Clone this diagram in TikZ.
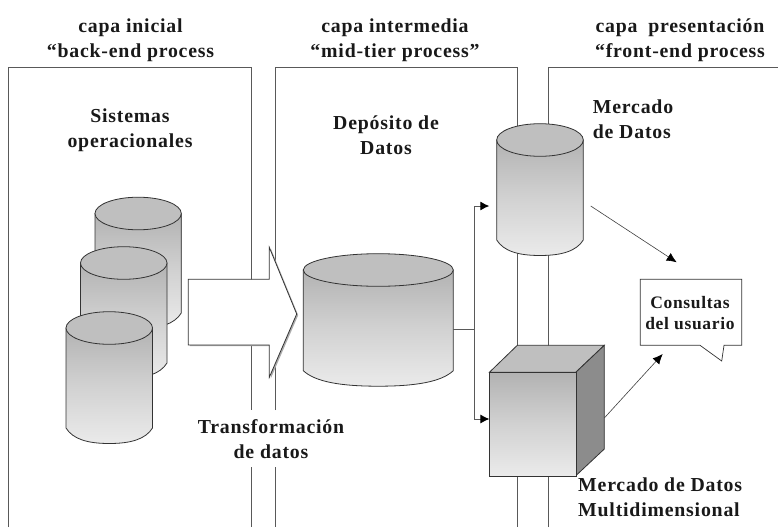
\documentclass[tikz,border=0pt]{standalone}
\usepackage{fontspec}
\setmainfont[LetterSpace=4]{Liberation Serif}
\usetikzlibrary{arrows.meta}
\definecolor{edgeg}{gray}{0.2}
\definecolor{paneg}{gray}{0.35}
\definecolor{topg}{gray}{0.75}
\definecolor{sidetop}{gray}{0.70}
\definecolor{sidebot}{gray}{0.92}
\definecolor{faceg}{gray}{0.55}
\tikzset{
  paneline/.style={draw=paneg,line width=0.9pt},
  shapeline/.style={draw=edgeg,line width=0.8pt},
  elbow/.style={draw=paneg,line width=0.9pt,-{Latex[length=9pt,width=9pt,black]}},
  tipped/.style={-{Latex[length=10pt,width=9pt,black]},draw=black!75,line width=0.6pt},
  lab/.style={font=\fontsize{19.8}{24.5}\selectfont\bfseries,align=center,inner sep=0pt,text=black!90},
  labl/.style={lab,align=left},
  smalllab/.style={lab,font=\fontsize{17.5}{21}\selectfont\bfseries},
  gradfill/.style={top color=sidetop,bottom color=sidebot,middle color=sidetop!45!sidebot}
}
% #1 name, #2 left x, #3 right x, #4 ellipse centre y, #5 side end y
\newcommand{\drum}[5]{%
  \path[shapeline,gradfill] (#2,#4) -- (#2,#5)
    .. controls (#2+0.08*#3-0.08*#2,#5+0.0+15.5*0.72) and ({#2+0.25*(#3-#2)},#5+15.5) .. ({(#2+#3)/2},#5+15.5)
    .. controls ({#3-0.25*(#3-#2)},#5+15.5) and (#3-0.08*#3+0.08*#2,#5+15.5*0.72) .. (#3,#5) -- (#3,#4) -- cycle;
  \path[shapeline,fill=topg] ({(#2+#3)/2},#4) ellipse [x radius={(#3-#2)/2},y radius=16.3];
  \coordinate (#1-e) at (#3,{(#4+#5)/2});
}
\begin{document}
\begin{tikzpicture}[x=1pt,y=-1pt]
\useasboundingbox (0,0) rectangle (778,527);
\fill[white] (0,0) rectangle (778,527);
% panels
\coordinate (pa) at (8.3,527);   \coordinate (pb) at (8.3,67.5);
\coordinate (pc) at (251,67.5);  \coordinate (pd) at (251,410);
\coordinate (pe) at (251,467);   \coordinate (pf) at (251,527);
\coordinate (qa) at (275,410);   \coordinate (qb) at (275,67.5);
\coordinate (qc) at (517.5,67.5);\coordinate (qd) at (517.5,527);
\coordinate (qe) at (275,467);   \coordinate (qf) at (275,527);
\coordinate (ra) at (548,527);   \coordinate (rb) at (548,67.5);
\coordinate (rc) at (778,67.5);
\draw[paneline] (pa) -- (pb) -- (pc) -- (pd);
\draw[paneline] (pe) -- (pf);
\draw[paneline] (qa) -- (qb) -- (qc) -- (qd);
\draw[paneline] (qe) -- (qf);
\draw[paneline] (ra) -- (rb) -- (rc);
% source cylinders
\drum{s1}{95}{181.3}{213.5}{313}
\drum{s2}{80.5}{167}{263}{363}
\drum{s3}{66}{152.5}{328}{428}
% big block arrow with its shadow
\fill[gray!65,xshift=1.5pt,yshift=-1.2pt] (188.3,279.3) -- (269.3,279.3) -- (269.3,247.3) -- (296.7,314) -- (269.3,377.3) -- (269.3,345) -- (188.3,345) -- cycle;
\draw[shapeline,fill=white] (188.3,279.3) -- (269.3,279.3) -- (269.3,247.3) -- (296.7,314) -- (269.3,377.3) -- (269.3,345) -- (188.3,345) -- cycle;
% warehouse, mart
\drum{dw}{303.3}{453.3}{270}{370.7}
\drum{dm}{496.7}{583.3}{140}{240}
% cube
\path[shapeline,fill=topg] (489.4,372.3) -- (517.3,345.3) -- (604.3,345.3) -- (575.8,372.3) -- cycle;
\path[shapeline,fill=faceg] (575.8,372.3) -- (604.3,345.3) -- (604.3,449) -- (575.8,475.7) -- cycle;
\node[shapeline,gradfill,minimum width=86.4pt,minimum height=103.4pt,inner sep=0pt,anchor=north west] (cube) at (489.4,372.3) {};
% callout
\path[draw=edgeg,line width=0.7pt,fill=white] (640.3,279.3) -- (741.7,279.3) -- (741.7,345.3) -- (724,345.3) -- (721.7,361) -- (700,345.3) -- (640.3,345.3) -- cycle;
% labels
\node[lab,anchor=base] (t1) at (130.5,57) {capa inicial\\“back-end process};
\node[lab,anchor=base] (t2) at (395,57) {capa intermedia\\“mid-tier process”};
\node[lab,anchor=base] (t3) at (680,57) {capa\hspace{0.25em} presentación\\“front-end process};
\node[lab,anchor=base] (l1) at (130,147) {Sistemas\\operacionales};
\node[lab,anchor=base] (l2) at (386,154) {Depósito de\\Datos};
\node[labl,anchor=base west] (l3) at (592.7,138) {Mercado\\de Datos};
\node[labl,anchor=base west] (l4) at (578,516) {Mercado de Datos\\Multidimensional};
\node[lab,anchor=base] (l5) at (271,458) {Transformación\\de datos};
\node[smalllab,anchor=base] (q) at (690,329) {Consultas\\del usuario};
% connectors
\coordinate (fork) at (474.7,329);
\coordinate (upc) at (474.7,206);
\coordinate (upt) at (489.3,206);
\coordinate (dnc) at (474.7,419);
\coordinate (dmo) at (590.7,206);
\coordinate (qt1) at (676.7,262.3);
\coordinate (cbo) at (604.3,418);
\coordinate (qt2) at (662.7,354);
\draw[paneline] (dw-e |- fork) -- (fork);
\draw[elbow] (fork) -- (upc) -- (upt);
\draw[elbow] (fork) -- (dnc) -- (cube.west |- dnc);
\draw[tipped] (dmo) -- (qt1);
\draw[tipped] (cbo) -- (qt2);
\end{tikzpicture}
\end{document}
